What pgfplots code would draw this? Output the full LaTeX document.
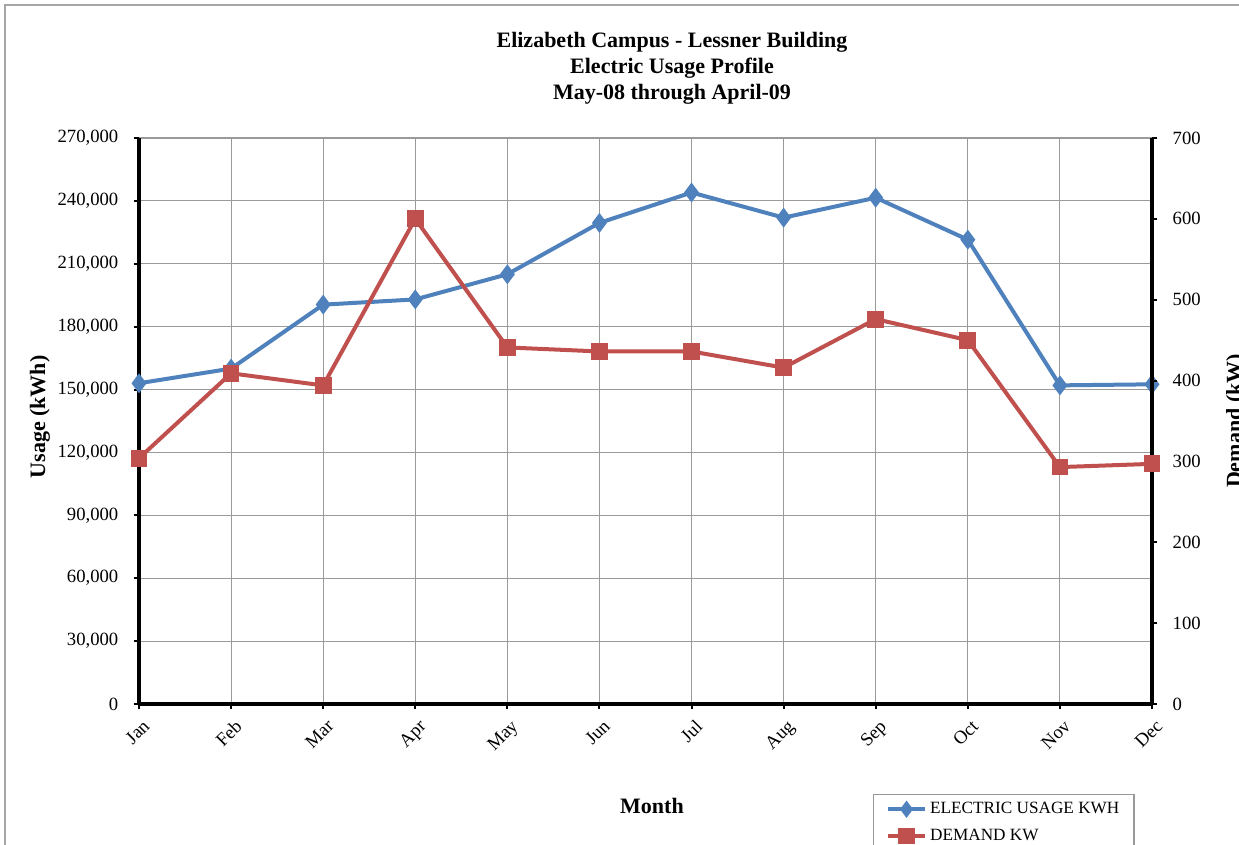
\documentclass[border=0pt]{standalone}
\usepackage{fontspec}
\setmainfont{Liberation Serif}
\usepackage{pgfplots}
\pgfplotsset{compat=1.18}
\definecolor{usage}{HTML}{4F81BD}
\definecolor{demand}{HTML}{C0504D}
\definecolor{gridc}{HTML}{9A9A9A}

\pgfplotstableread{
x usage
0 153000
1 160000
2 190500
3 193000
4 205000
5 229500
6 244000
7 232000
8 241500
9 221500
10 152000
11 152500
}\usagetable

\pgfplotstableread{
x demand
0 304
1 409
2 394
3 600
4 441
5 436
6 436
7 416
8 476
9 450
10 293
11 297
}\demandtable

\begin{document}
\begin{tikzpicture}
\useasboundingbox (0,0) rectangle (929.25pt,633pt);
\clip (0,0) rectangle (929.25pt,633pt);
\draw[gray!70, line width=1pt] (3.75pt,-10pt) -- (3.75pt,629.25pt) -- (940pt,629.25pt);
\node[font=\bfseries\fontsize{16.5}{19.5}\selectfont, align=center] at (504pt,582pt)
  {Elizabeth Campus - Lessner Building\\Electric Usage Profile\\May-08 through April-09};
\node[font=\bfseries\fontsize{16.5}{19.5}\selectfont] at (489pt,28.5pt) {Month};
\node[font=\bfseries\fontsize{16.5}{19.5}\selectfont, rotate=90] at (30pt,320.25pt) {Usage (kWh)};
\node[font=\bfseries\fontsize{16.5}{19.5}\selectfont, rotate=90] at (927pt,317.25pt) {Demand (kW)};

\begin{axis}[
  at={(104.25pt,105pt)}, anchor=south west,
  scale only axis, width=759.75pt, height=424.5pt,
  xmin=0, xmax=11, ymin=0, ymax=270000,
  axis x line*=bottom, axis y line*=left,
  axis line style={line width=2.6pt, -},
  xtick={0,...,11},
  xticklabels={Jan,Feb,Mar,Apr,May,Jun,Jul,Aug,Sep,Oct,Nov,Dec},
  xticklabel style={font=\fontsize{14}{16}\selectfont, rotate=45, anchor=north east, yshift=-3pt},
  ytick={0,30000,...,270000},
  scaled y ticks=false,
  yticklabel style={font=\fontsize{14}{16}\selectfont, xshift=-8pt, /pgf/number format/fixed, /pgf/number format/1000 sep={,}},
  /pgf/number format/assume math mode=true,
  tick align=outside, major tick length=4pt,
  tick style={black, line width=1.5pt},
  xmajorgrids, ymajorgrids, grid style={gridc, line width=0.8pt},
  clip=false,
]
\addplot[usage, line width=3pt, mark=diamond*, mark size=5pt, mark options={solid, fill=usage, draw=usage}] table[x=x, y=usage] {\usagetable};
\end{axis}

\begin{axis}[
  at={(104.25pt,105pt)}, anchor=south west,
  scale only axis, width=759.75pt, height=424.5pt,
  xmin=0, xmax=11, ymin=0, ymax=700,
  hide x axis, axis y line*=right,
  axis line style={line width=2.6pt, -},
  ytick={0,100,...,700},
  yticklabel style={font=\fontsize{14}{16}\selectfont, xshift=8pt},
  /pgf/number format/assume math mode=true,
  tick align=outside, major tick length=4pt,
  tick style={black, line width=1.5pt},
  clip=false,
  legend style={at={(0.7246,-0.159)}, anchor=north west, draw=gray!80, line width=0.8pt,
    font=\fontsize{12.9}{15}\selectfont, row sep=6pt, inner xsep=9pt, inner ysep=4pt},
  legend cell align=left,
  legend image code/.code={\draw[mark repeat=2, mark phase=2] plot coordinates {(0cm,0cm) (0.5cm,0cm) (1cm,0cm)};},
]
\addlegendimage{usage, line width=3pt, mark=diamond*, mark size=4pt, mark options={solid, fill=usage, draw=usage}}
\addlegendentry{ELECTRIC USAGE KWH}
\addplot[demand, line width=3pt, mark=square*, mark size=4.8pt, mark options={solid, fill=demand, draw=demand}] table[x=x, y=demand] {\demandtable};
\addlegendentry{DEMAND KW}
\end{axis}
\end{tikzpicture}
\end{document}
